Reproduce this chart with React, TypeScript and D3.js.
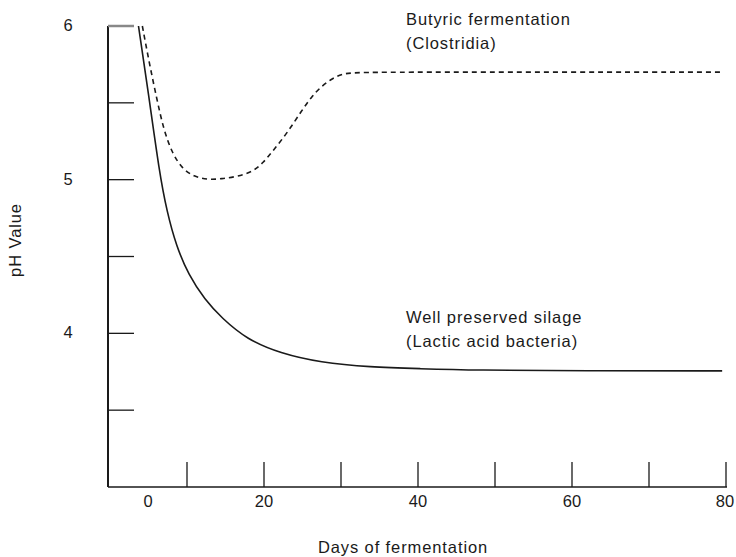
import React from "react";
import * as d3 from "d3";

const xTicks = [10, 20, 30, 40, 50, 60, 70, 80];
const xLabels = [0, 20, 40, 60, 80];
const yTicks = [3.5, 4, 4.5, 5, 5.5, 6];
const yLabels = [4, 5, 6];

const lacticDays = [3.7, 5.0, 6.4, 7.4, 8.6, 10.2, 12.3, 14.5, 17.8, 22.1, 27.3, 33.8, 40.3, 46.8, 63.6, 79.5];
const lacticPH = [6.0, 5.56, 5.05, 4.79, 4.57, 4.38, 4.22, 4.1, 3.96, 3.87, 3.81, 3.78, 3.77, 3.76, 3.756, 3.756];

const butyricDays = [4.2, 5.1, 6.1, 7.0, 8.1, 9.4, 10.9, 12.6, 14.5, 16.5, 18.5, 19.9, 21.2, 23.1, 24.9, 26.2, 27.3, 28.6, 30.1, 32.1, 50, 79.5];
const butyricPH = [6.0, 5.76, 5.52, 5.32, 5.17, 5.07, 5.02, 5.0, 5.005, 5.02, 5.05, 5.11, 5.19, 5.31, 5.45, 5.54, 5.6, 5.65, 5.69, 5.7, 5.7, 5.7];

const W = 736;
const H = 557;

export default function App() {
  const x = d3.scaleLinear().domain([0, 80]).range([110, 726]);
  const y = d3.scaleLinear().domain([3, 6]).range([487, 26]);
  const axisX = 108;
  const line = d3
    .line<[number, number]>()
    .x((d) => x(d[0]))
    .y((d) => y(d[1]))
    .curve(d3.curveBasis);
  const lactic = lacticDays.map((d, i) => [d, lacticPH[i]] as [number, number]);
  const butyric = butyricDays.map((d, i) => [d, butyricPH[i]] as [number, number]);
  const font = "'Liberation Sans', Arial, Helvetica, sans-serif";
  const ink = "#1a1a1a";
  const fs = 16.5;
  const ls = 0.9;
  return (
    <div style={{ position: "absolute", left: 0, top: 0 }}>
      <svg width={W} height={H} style={{ display: "block", background: "#fff" }}>
        {/* axes */}
        <line x1={axisX} x2={axisX} y1={y(6)} y2={y(3)} stroke={ink} strokeWidth={2} />
        <line x1={axisX} x2={x(80) + 1} y1={y(3)} y2={y(3)} stroke={ink} strokeWidth={1.5} />
        {yTicks.map((t) => (
          <line
            key={"yt" + t}
            x1={axisX}
            x2={axisX + 26}
            y1={y(t)}
            y2={y(t)}
            stroke={t === 6 ? "#888" : ink}
            strokeWidth={t === 6 ? 2.5 : 1.3}
          />
        ))}
        {xTicks.map((t) => (
          <line key={"xt" + t} x1={x(t)} x2={x(t)} y1={y(3)} y2={y(3) - 25} stroke={ink} strokeWidth={1.3} />
        ))}
        {yLabels.map((t) => (
          <text
            key={"yl" + t}
            x={68}
            y={y(t)}
            dy="0.3em"
            textAnchor="middle"
            fontFamily={font}
            fontSize={fs}
            fill={ink}
          >
            {t}
          </text>
        ))}
        {xLabels.map((t) => (
          <text
            key={"xl" + t}
            x={t === 0 ? x(t) + 38 : x(t) - (t === 80 ? 1 : 0)}
            y={507}
            textAnchor="middle"
            fontFamily={font}
            fontSize={fs}
            fill={ink}
          >
            {t}
          </text>
        ))}
        <text
          x={403}
          y={553}
          textAnchor="middle"
          fontFamily={font}
          fontSize={fs}
          letterSpacing={ls}
          fill={ink}
        >
          Days of fermentation
        </text>
        <text
          transform={`translate(21,240) rotate(-90)`}
          textAnchor="middle"
          fontFamily={font}
          fontSize={fs}
          letterSpacing={ls}
          fill={ink}
        >
          pH Value
        </text>
        {/* curves */}
        <path d={line(lactic) || ""} fill="none" stroke={ink} strokeWidth={1.6} />
        <path d={line(butyric) || ""} fill="none" stroke={ink} strokeWidth={1.6} strokeDasharray="5,4" />
        {/* annotations */}
        <text x={406} y={25} fontFamily={font} fontSize={fs} letterSpacing={ls} fill={ink}>
          Butyric fermentation
        </text>
        <text x={406} y={49} fontFamily={font} fontSize={fs} letterSpacing={ls} fill={ink}>
          (Clostridia)
        </text>
        <text x={406} y={323} fontFamily={font} fontSize={fs} letterSpacing={ls} fill={ink}>
          Well preserved silage
        </text>
        <text x={406} y={347} fontFamily={font} fontSize={fs} letterSpacing={ls} fill={ink}>
          (Lactic acid bacteria)
        </text>
      </svg>
    </div>
  );
}
